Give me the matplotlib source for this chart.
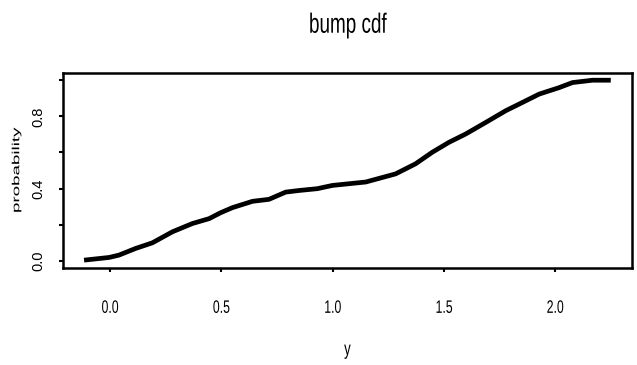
import matplotlib
matplotlib.use("Agg")
import matplotlib.pyplot as plt
from matplotlib.patheffects import AbstractPathEffect
from matplotlib.transforms import Affine2D


class Squeeze(AbstractPathEffect):
    """Draw text glyphs scaled in their own x / y direction (narrow face)."""

    def __init__(self, sx=1.0, sy=1.0):
        super().__init__()
        self.sx, self.sy = sx, sy

    def draw_path(self, renderer, gc, tpath, affine, rgbFace=None):
        ext = tpath.get_extents()
        cx = 0.5 * (ext.x0 + ext.x1)
        cy = 0.5 * (ext.y0 + ext.y1)
        t = (Affine2D().translate(-cx, -cy).scale(self.sx, self.sy)
             .translate(cx, cy) + affine)
        renderer.draw_path(gc, tpath, t, rgbFace)


font = ["Liberation Sans", "DejaVu Sans"]
narrow = [Squeeze(0.68, 1.0)]

y_vals = [-0.117, -0.004, 0.04, 0.115, 0.19, 0.28, 0.37, 0.445, 0.497, 0.55, 0.64,
          0.714, 0.789, 0.849, 0.931, 0.999, 1.149, 1.283, 1.373, 1.448, 1.523,
          1.598, 1.688, 1.778, 1.868, 1.928, 2.018, 2.078, 2.168, 2.25]
prob = [0.003, 0.018, 0.031, 0.068, 0.099, 0.16, 0.206, 0.233, 0.266, 0.294, 0.329,
        0.34, 0.38, 0.389, 0.399, 0.417, 0.436, 0.481, 0.537, 0.601, 0.656,
        0.702, 0.766, 0.831, 0.886, 0.923, 0.959, 0.987, 1.0, 1.0]

x_ticks = [0.0, 0.5, 1.0, 1.5, 2.0]
x_ticklabels = ["0.0", "0.5", "1.0", "1.5", "2.0"]
y_ticks = [0.0, 0.2, 0.4, 0.6, 0.8, 1.0]
y_ticklabels = ["0.0", "", "0.4", "", "0.8", ""]

fig = plt.figure(figsize=(6.37, 3.65), dpi=100)
ax = fig.add_axes([0.0989, 0.266, 0.893, 0.534])
ax.plot(y_vals, prob, color="black", lw=3.4, solid_capstyle="butt")

xr = max(y_vals) - min(y_vals)
ax.set_xlim(min(y_vals) - 0.04 * xr, max(y_vals) + 0.04 * xr)
ax.set_ylim(-0.04, 1.04)

for s in ax.spines.values():
    s.set_linewidth(1.8)

ax.set_xticks(x_ticks)
ax.set_xticklabels(x_ticklabels, family=font, fontsize=13)
for t in ax.get_xticklabels():
    t.set_path_effects(narrow)
ax.set_yticks(y_ticks)
ax.set_yticklabels(y_ticklabels, family=font, fontsize=10.5, rotation=90, va="center")
ax.tick_params(axis="x", length=3, width=1.5, pad=20)
ax.tick_params(axis="y", length=3, width=1.5, pad=10)

xl = ax.set_xlabel("y", family=font, fontsize=14, labelpad=18)
xl.set_path_effects(narrow)
yl = ax.set_ylabel("probability", family=font, fontsize=13.5, labelpad=4)
yl.set_path_effects([Squeeze(1.0, 0.55)])
tt = ax.set_title("bump cdf", family=font, fontsize=20, pad=29)
tt.set_path_effects(narrow)

fig.savefig("out.png", dpi=100)
